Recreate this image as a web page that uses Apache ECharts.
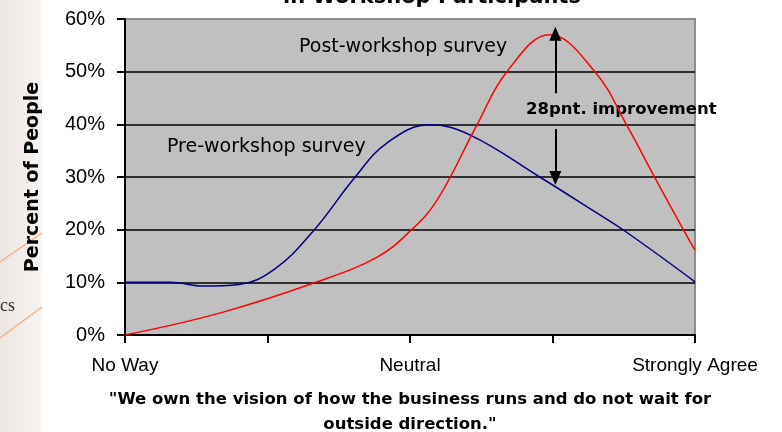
<!DOCTYPE html>
<html>
<head>
<meta charset="utf-8">
<script src="https://cdn.jsdelivr.net/npm/echarts@6/dist/echarts.min.js"></script>
<style>
  html, body { margin: 0; padding: 0; background: #fff; }
  #chart { width: 782px; height: 432px; }
</style>
</head>
<body>
<div id="chart"></div>
<script>
// answer scale positions: 0 = No Way, 2 = Neutral, 4 = Strongly Agree
var scaleLabels = { 0: 'No Way', 2: 'Neutral', 4: 'Strongly Agree' };

// pre-workshop survey, [position, percent]
var preSurvey = [
  [0, 10], [0.32, 10], [0.55, 9.3], [0.80, 9.6], [1.05, 12.5],
  [1.32, 19.7], [1.61, 29.8], [1.84, 36.5], [2.14, 39.9], [2.42, 38],
  [2.91, 30], [3.28, 23.7], [3.51, 19.7], [4, 10.1]
];

// post-workshop survey, [position, percent]
var postSurvey = [
  [0, 0], [0.67, 4.2], [1.35, 10.1], [1.77, 14.8], [2.0, 19.7],
  [2.19, 25.6], [2.47, 39.9], [2.68, 50], [2.98, 57], [3.30, 49.9],
  [3.52, 39.9], [3.72, 29.8], [3.92, 19.9], [4, 16.1]
];

// improvement arrow ends
var arrowTop = [[3.02, 57.2], [3.02, 45.9]];
var arrowBottom = [[3.02, 39.1], [3.02, 29.8]];

var font = 'Arial, "Liberation Sans", sans-serif';
var wide = '"DejaVu Sans", Arial, sans-serif';
var chart = echarts.init(document.getElementById('chart'));

chart.setOption({
  backgroundColor: '#fff',
  animation: false,
  grid: {
    left: 125, right: 87, top: 19, bottom: 97,
    outerBoundsMode: 'none',
    containLabel: false,
    show: true,
    backgroundColor: '#c0c0c0',
    borderColor: '#8c8c8c',
    borderWidth: 2
  },
  xAxis: {
    type: 'value',
    min: 0, max: 4, interval: 1,
    name: '"We own the vision of how the business runs and do not wait for\noutside direction."',
    nameLocation: 'middle',
    nameGap: 52,
    nameTextStyle: { fontFamily: wide, fontWeight: 'bold', fontSize: 16.5, color: '#000', lineHeight: 25 },
    axisLine: { lineStyle: { color: '#000', width: 2 } },
    axisTick: { show: true, length: 8, lineStyle: { color: '#000', width: 2 } },
    axisLabel: {
      margin: 21,
      fontFamily: font, fontSize: 19, color: '#000',
      formatter: function (v) { return scaleLabels[v] || ''; }
    },
    splitLine: { show: false }
  },
  yAxis: {
    type: 'value',
    min: 0, max: 60, interval: 10,
    name: 'Percent of People',
    nameLocation: 'middle',
    nameGap: 82,
    nameRotate: 90,
    nameTextStyle: { fontFamily: wide, fontWeight: 'bold', fontSize: 19, color: '#000' },
    axisLine: { show: true, lineStyle: { color: '#000', width: 2 } },
    axisTick: { show: true, length: 8, lineStyle: { color: '#000', width: 2 } },
    axisLabel: {
      margin: 20,
      fontFamily: font, fontSize: 20, color: '#000',
      formatter: '{value}%'
    },
    splitLine: {
      show: true,
      lineStyle: { color: ['#000', '#000', '#000', '#000', '#000', '#000', '#8c8c8c'], width: 1.5 }
    }
  },
  series: [
    {
      name: 'Pre-workshop survey',
      type: 'line',
      data: preSurvey,
      smooth: 0.4,
      showSymbol: false,
      lineStyle: { color: '#000080', width: 1.5 }
    },
    {
      name: 'Post-workshop survey',
      type: 'line',
      data: postSurvey,
      smooth: 0.4,
      showSymbol: false,
      lineStyle: { color: '#ff0000', width: 1.5 },
      markLine: {
        silent: true,
        symbol: ['none', 'none'],
        label: { show: false },
        lineStyle: { color: '#000', width: 2, type: 'solid' },
        data: [
          [{ coord: arrowTop[1], symbol: 'none' }, { coord: arrowTop[0], symbol: 'triangle', symbolSize: [12, 14] }],
          [{ coord: arrowBottom[0], symbol: 'none' }, { coord: arrowBottom[1], symbol: 'triangle', symbolSize: [12, 14] }]
        ]
      }
    }
  ],
  graphic: [
    { type: 'rect', left: 0, top: 0, z: -1, shape: { width: 42, height: 432 },
      style: { fill: new echarts.graphic.LinearGradient(0, 0, 1, 0, [
        { offset: 0, color: '#ece6e2' }, { offset: 1, color: '#f7f4f2' }]) } },
    { type: 'line', z: -1, shape: { x1: 0, y1: 262, x2: 42, y2: 233 }, style: { stroke: '#f4b488', lineWidth: 1.5 } },
    { type: 'line', z: -1, shape: { x1: 0, y1: 338, x2: 42, y2: 307 }, style: { stroke: '#f4b488', lineWidth: 1.5 } },
    { type: 'text', left: 0, top: 297, style: { text: 'cs', font: '18px "Liberation Serif", serif', fill: '#333' } },
    { type: 'text', x: 432, y: 8, style: { text: 'in Workshop Participants', font: 'bold 21px ' + wide, fill: '#000', align: 'center', verticalAlign: 'bottom' } },
    { type: 'text', x: 299, y: 47, style: { text: 'Post-workshop survey', font: '19px ' + wide, fill: '#000', verticalAlign: 'middle' } },
    { type: 'text', x: 167, y: 147, style: { text: 'Pre-workshop survey', font: '19px ' + wide, fill: '#000', verticalAlign: 'middle' } },
    { type: 'text', x: 526, y: 110, style: { text: '28pnt. improvement', font: 'bold 16.5px ' + wide, fill: '#000', verticalAlign: 'middle' } }
  ]
});
</script>
</body>
</html>
